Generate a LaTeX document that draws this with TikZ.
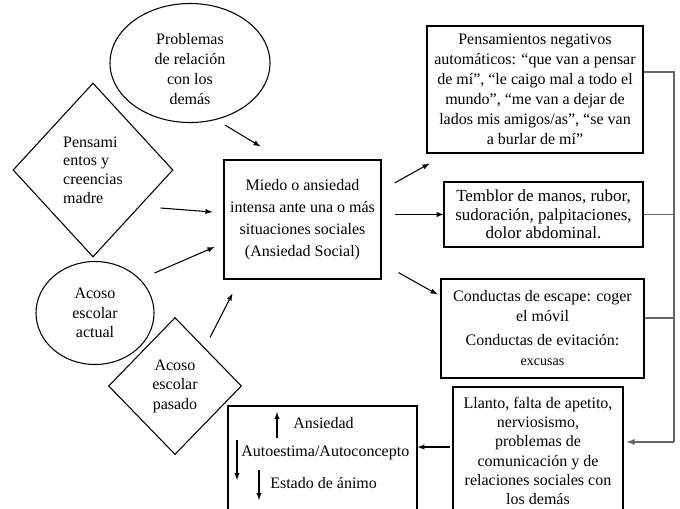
\documentclass[tikz,border=0pt]{standalone}
\usepackage{fontspec}
\setmainfont{Liberation Serif}
\usetikzlibrary{shapes.geometric}
\usetikzlibrary{calc}

\tikzset{
  caja/.style={draw, rectangle, line width=0.8pt, inner sep=0pt, align=center},
  elipse/.style={draw, ellipse, line width=0.8pt, inner sep=0pt, align=center},
  rombo/.style={draw, diamond, line width=0.8pt, inner sep=0pt},
  flecha/.style={-latex, line width=0.8pt},
  bus/.style={draw=black!60, line width=1.1pt},
  txt/.style={inner sep=0pt, anchor=west},
}

\begin{document}
\begin{tikzpicture}[x=0.75pt,y=0.75pt,yscale=-1,xscale=1]
\useasboundingbox (0,0) rectangle (680,508);
\clip (0,0) rectangle (680,508);

%Shape: Ellipse
\node [elipse, minimum width=120pt, minimum height=78.75pt, font=\fontsize{12}{15}\selectfont] (prob) at (190,63) {\rule{0pt}{18pt}Problemas\\de relación\\con los\\demás};
%Shape: Diamond
\node [rombo, minimum width=120pt, minimum height=130.5pt, align=left, font=\fontsize{12}{14}\selectfont] (pens) at (93,170) {Pensami\\entos y\\creencias\\madre};
%Shape: Ellipse
\node [elipse, minimum width=88.5pt, minimum height=77.25pt, font=\fontsize{12}{14.6}\selectfont] (actual) at (95,313) {Acoso\\escolar\\actual};
%Shape: Diamond
\node [rombo, minimum width=99.75pt, minimum height=102.75pt, align=center, font=\fontsize{12}{14.6}\selectfont] (pasado) at (175,386) {Acoso\\escolar\\pasado};

%Shape: Rectangle
\node [caja, minimum width=117.75pt, minimum height=89.25pt, font=\fontsize{12}{16.5}\selectfont] (miedo) at (302.5,219.5) {Miedo o ansiedad\\intensa ante una o más\\situaciones sociales\\(Ansiedad Social)};
%Shape: Rectangle
\node [caja, minimum width=162pt, minimum height=95.25pt, font=\fontsize{12}{15}\selectfont] (pna) at (535,89.5) {Pensamientos negativos\\automáticos: “que van a pensar\\de mí”, “le caigo mal a todo el\\mundo”, “me van a dejar de\\lados mis amigos/as”, “se van\\a burlar de mí”};
%Shape: Rectangle
\node [caja, minimum width=149.25pt, minimum height=48.75pt, font=\fontsize{12.7}{14}\selectfont] (sint) at (543.5,214.5) {Temblor de manos, rubor,\\sudoración, palpitaciones,\\dolor abdominal.};
%Shape: Rectangle
\node [caja, minimum width=152.25pt, minimum height=74.25pt, font=\fontsize{12}{15}\selectfont] (cond) at (542.5,328.5) {Conductas de escape: coger\\el móvil\\[3pt]Conductas de evitación:\\{\fontsize{10.5}{12}\selectfont excusas}};
%Shape: Rectangle
\node [caja, minimum width=127.5pt, minimum height=96pt, font=\fontsize{12}{14.5}\selectfont] (llan) at (538,451) {Llanto, falta de apetito,\\nerviosismo,\\problemas de\\comunicación y de\\relaciones sociales con\\los demás};
%Shape: Rectangle
\node [caja, minimum width=141.75pt, minimum height=85.5pt] (efect) at (322.5,463) {};

% Text Node
\node [txt, font=\fontsize{12}{14}\selectfont] (ans) at (293,423) {Ansiedad};
% Text Node
\node [txt, font=\fontsize{12}{14}\selectfont] (auto) at (241,453) {Autoestima/Autoconcepto};
% Text Node
\node [txt, font=\fontsize{12}{14}\selectfont] (animo) at (270,483) {Estado de ánimo};
%Straight Lines
\draw [flecha] ($(ans.west)+(-16,15)$) -- ($(ans.west)+(-16,-11)$) ;
\draw [flecha] ($(auto.west)+(-4,-13)$) -- ($(auto.west)+(-4,27)$) ;
\draw [flecha] ($(animo.west)+(-11,-13)$) -- ($(animo.west)+(-11,17)$) ;

%Straight Lines
\draw [flecha] ($(prob.south)+(35,2)$) -- ($(miedo.north west)+(37,-13)$) ;
\draw [flecha] ($(pens.east)+(-13,38)$) -- ($(miedo.west)+(-11,-7.5)$) ;
\draw [flecha] ($(actual.east)+(0,-40)$) -- ($(miedo.west)+(-9,27.5)$) ;
\draw [flecha] ($(pasado.north)+(35,20.5)$) -- ($(miedo.south west)+(9,14)$) ;
\draw [flecha] ($(miedo.east)+(13,-36.5)$) -- ($(pna.south west)+(3,10)$) ;
\draw [flecha] ($(miedo.east |- sint.west)+(13,0)$) -- (sint.west) ;
\draw [flecha] ($(miedo.south east)+(17,-7)$) -- ($(cond.north west)+(-3,16)$) ;

%Connector lines
\coordinate (b1) at (674,72);
\coordinate (b2) at (674,318);
\coordinate (b3) at (674,442);
\draw [bus] (pna.east |- b1) -- (b1) -- (b3) ;
\draw [bus] (sint.east) -- (sint.east -| b1) ;
\draw [bus] (cond.east |- b2) -- (b2) ;
\draw [bus, -latex] (b3) -- ($(llan.east |- b3)+(3,0)$) ;
\draw [flecha] ($(llan.west)+(-2,-4)$) coordinate (s9) -- (efect.east |- s9) ;

\end{tikzpicture}
\end{document}
